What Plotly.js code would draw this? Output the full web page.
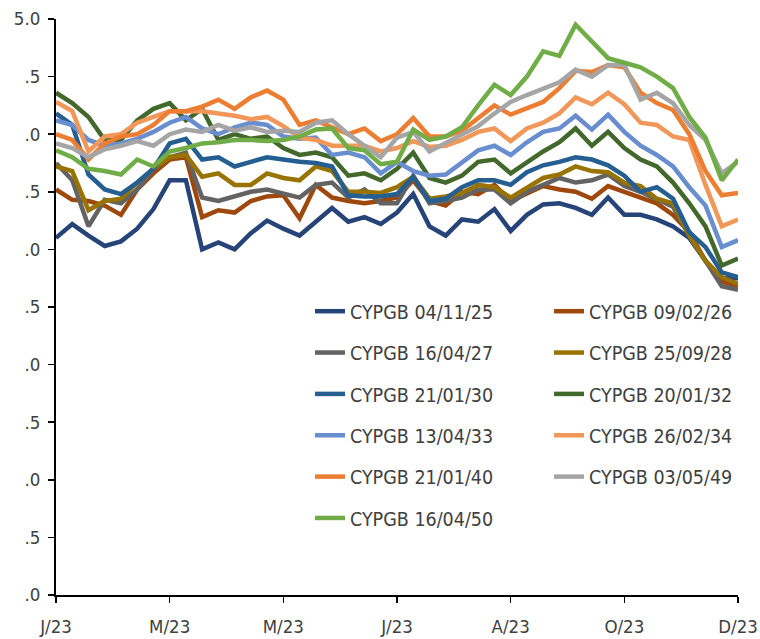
<!DOCTYPE html>
<html>
<head>
<meta charset="utf-8">
<script src="https://cdn.plot.ly/plotly-3.0.1.min.js"></script>
<style>html,body{margin:0;padding:0;background:#fff;}#chart{width:760px;height:639px;}</style>
</head>
<body>
<div id="chart"></div>
<script>
// trading-day index (every 6th session, 2023)
const days = [0,6,12,18,24,30,36,42,48,54,60,66,72,78,84,90,96,102,108,114,120,126,132,138,144,150,156,162,168,174,180,186,192,198,204,210,216,222,228,234,240,246,252];
const tickDays = [0,42,84,126,168,210,252];
const tickLabels = ["J/23","M/23","M/23","J/23","A/23","O/23","D/23"];
const yTickVals = [0,0.5,1,1.5,2,2.5,3,3.5,4,4.5,5];
const yTickText = [".0",".5",".0",".5",".0",".5",".0",".5",".0",".5","5.0"];

const names = ["CYPGB 04/11/25","CYPGB 09/02/26","CYPGB 16/04/27","CYPGB 25/09/28","CYPGB 21/01/30","CYPGB 20/01/32","CYPGB 13/04/33","CYPGB 26/02/34","CYPGB 21/01/40","CYPGB 03/05/49","CYPGB 16/04/50"];
const colors = ["#264478","#9E480E","#636363","#997300","#255E91","#43682B","#698ED0","#F1975A","#ED7D31","#A5A5A5","#70AD47"];

const s25 = [3.1,3.22,3.12,3.03,3.07,3.18,3.35,3.6,3.6,3.0,3.06,3.0,3.14,3.25,3.18,3.12,3.24,3.36,3.24,3.28,3.22,3.32,3.48,3.2,3.12,3.26,3.24,3.35,3.16,3.3,3.39,3.4,3.36,3.3,3.45,3.3,3.3,3.26,3.2,3.1,2.9,2.75,2.75];
const s26 = [3.52,3.43,3.42,3.38,3.3,3.52,3.66,3.78,3.8,3.28,3.34,3.32,3.42,3.46,3.47,3.27,3.56,3.45,3.42,3.4,3.42,3.45,3.6,3.42,3.38,3.5,3.48,3.56,3.42,3.48,3.55,3.52,3.5,3.44,3.55,3.5,3.45,3.4,3.3,3.15,2.9,2.72,2.68];
const s27 = [3.75,3.6,3.2,3.43,3.4,3.52,3.7,3.8,3.84,3.45,3.42,3.46,3.5,3.52,3.48,3.45,3.56,3.58,3.45,3.52,3.4,3.4,3.64,3.4,3.42,3.45,3.52,3.52,3.4,3.5,3.56,3.62,3.58,3.6,3.65,3.55,3.5,3.43,3.37,3.12,2.9,2.68,2.65];
const s28 = [3.72,3.68,3.34,3.42,3.44,3.58,3.7,3.8,3.82,3.63,3.66,3.56,3.56,3.66,3.62,3.6,3.72,3.68,3.5,3.5,3.49,3.54,3.63,3.44,3.46,3.49,3.56,3.54,3.45,3.54,3.62,3.65,3.72,3.68,3.67,3.58,3.55,3.44,3.4,3.12,2.9,2.76,2.7];
const s30 = [4.18,4.08,3.65,3.52,3.48,3.58,3.7,3.92,3.96,3.78,3.8,3.72,3.76,3.8,3.78,3.76,3.75,3.72,3.47,3.46,3.46,3.48,3.63,3.42,3.44,3.54,3.6,3.6,3.56,3.67,3.73,3.76,3.8,3.78,3.73,3.64,3.5,3.54,3.44,3.15,3.02,2.8,2.76];
const s32 = [4.36,4.27,4.15,3.95,3.95,4.12,4.22,4.27,4.12,4.22,3.95,4.0,3.96,3.98,3.88,3.82,3.84,3.8,3.64,3.66,3.6,3.7,3.84,3.62,3.58,3.64,3.76,3.78,3.66,3.76,3.85,3.93,4.05,3.9,4.02,3.88,3.78,3.72,3.58,3.4,3.2,2.86,2.92];
const s33 = [4.12,4.08,3.95,3.9,3.92,3.96,4.02,4.1,4.15,4.05,4.0,4.06,4.1,4.08,3.98,3.96,3.97,3.82,3.84,3.8,3.66,3.76,3.68,3.64,3.65,3.75,3.86,3.9,3.82,3.93,4.02,4.05,4.16,4.04,4.17,4.02,3.9,3.82,3.72,3.54,3.38,3.02,3.08];
const s34 = [4.28,4.2,3.85,3.98,4.0,4.1,4.15,4.2,4.2,4.2,4.18,4.16,4.13,4.15,4.07,3.97,3.95,3.9,3.9,3.9,3.85,3.88,3.94,3.89,3.9,3.95,4.02,4.05,3.94,4.05,4.1,4.18,4.32,4.26,4.36,4.26,4.1,4.08,3.98,3.95,3.56,3.2,3.26];
const s40 = [4.0,3.95,3.78,3.92,3.98,4.0,4.08,4.2,4.2,4.24,4.3,4.22,4.32,4.38,4.3,4.08,4.12,4.06,4.0,4.05,3.94,4.0,4.14,3.98,3.98,4.03,4.14,4.25,4.17,4.23,4.28,4.4,4.55,4.54,4.6,4.58,4.36,4.27,4.21,4.0,3.68,3.47,3.49];
const s49 = [3.92,3.88,3.8,3.87,3.9,3.94,3.9,4.0,4.04,4.02,4.08,4.03,4.06,4.02,4.03,4.02,4.1,4.12,4.0,3.9,3.8,3.97,4.02,3.85,3.92,4.0,4.07,4.18,4.28,4.34,4.4,4.45,4.56,4.5,4.6,4.6,4.3,4.36,4.27,4.08,3.95,3.66,3.76];
const s50 = [3.86,3.8,3.7,3.68,3.65,3.78,3.72,3.85,3.88,3.92,3.93,3.95,3.95,3.94,3.95,3.98,4.04,4.05,3.88,3.86,3.74,3.76,4.04,3.95,3.98,4.06,4.25,4.43,4.34,4.5,4.72,4.68,4.95,4.8,4.66,4.62,4.58,4.5,4.4,4.15,3.97,3.6,3.78];

const series = [s25,s26,s27,s28,s30,s32,s33,s34,s40,s49,s50];

const FONT = "DejaVu Sans Condensed, Tahoma, DejaVu Sans, sans-serif";

const traces = series.map((ys, i) => ({
  type: "scatter",
  mode: "lines",
  x: days,
  y: ys,
  name: names[i],
  legendgroup: "g" + i,
  legend: (i % 2 === 0) ? "legend" : "legend2",
  line: {color: colors[i], width: 4.5, shape: "linear"},
  hoverinfo: "skip"
}));

const legendCommon = {
  orientation: "v",
  xanchor: "left",
  yanchor: "top",
  bgcolor: "rgba(0,0,0,0)",
  borderwidth: 0,
  tracegroupgap: 13,
  font: {family: FONT, size: 19.5, color: "#404040"}
};

const layout = {
  width: 760,
  height: 639,
  margin: {l: 56, r: 22, t: 19, b: 44},
  paper_bgcolor: "#fff",
  plot_bgcolor: "#fff",
  showlegend: true,
  legend: Object.assign({}, legendCommon, {x: 0.3724, y: 0.526}),
  legend2: Object.assign({}, legendCommon, {x: 0.7229, y: 0.526}),
  xaxis: {
    range: [0, 252],
    tickmode: "array",
    tickvals: tickDays,
    ticktext: tickLabels,
    showgrid: false,
    zeroline: false,
    showline: true,
    linecolor: "#000",
    linewidth: 2,
    ticks: "outside",
    ticklen: 6,
    tickwidth: 1.5,
    tickcolor: "#000",
    ticklabelstandoff: 8,
    tickfont: {family: FONT, size: 18.5, color: "#404040"}
  },
  yaxis: {
    range: [0, 5],
    tickmode: "array",
    tickvals: yTickVals,
    ticktext: yTickText,
    showgrid: false,
    zeroline: false,
    showline: true,
    linecolor: "#000",
    linewidth: 2,
    ticks: "outside",
    ticklen: 6,
    tickwidth: 1.5,
    tickcolor: "#000",
    ticklabelstandoff: 4,
    tickfont: {family: FONT, size: 18.5, color: "#404040"}
  }
};

Plotly.newPlot("chart", traces, layout, {staticPlot: true, displayModeBar: false});
</script>
</body>
</html>
